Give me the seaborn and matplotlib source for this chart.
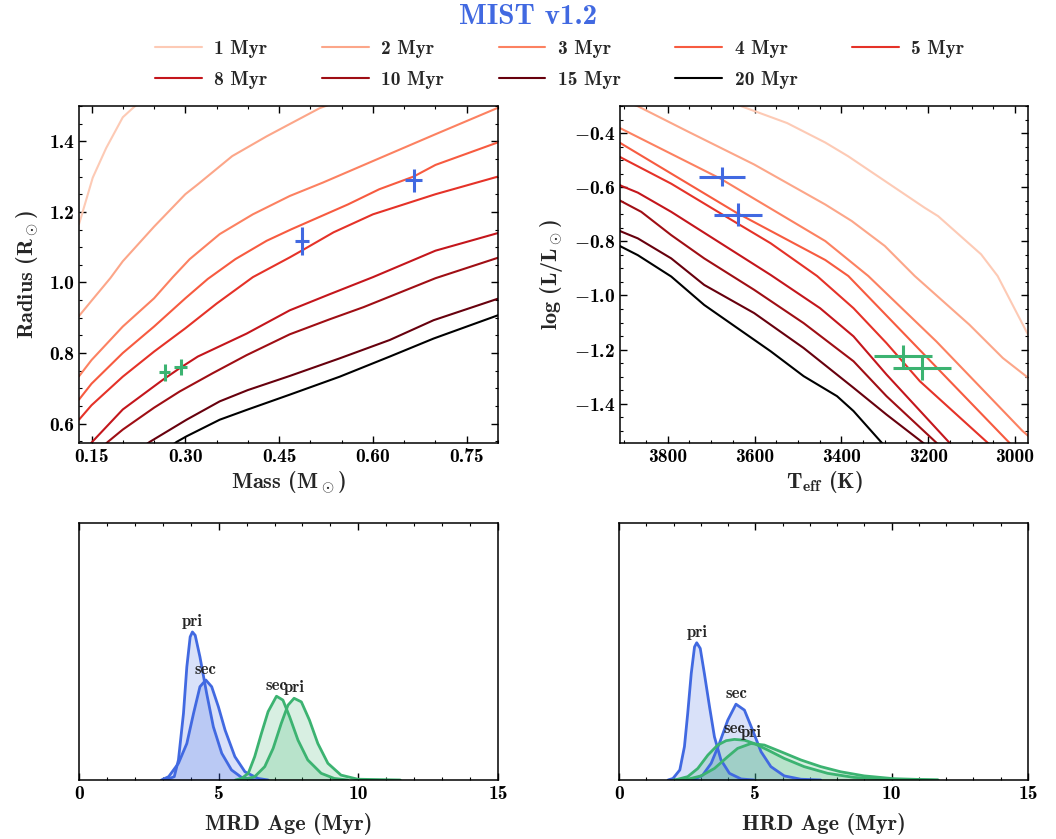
import numpy as np
import pandas as pd
import matplotlib
matplotlib.use("Agg")
import matplotlib.pyplot as plt
from matplotlib.ticker import MultipleLocator, FuncFormatter
import seaborn as sns

# ---------------- data ----------------
ages = ["1 Myr", "2 Myr", "3 Myr", "4 Myr", "5 Myr", "8 Myr", "10 Myr", "15 Myr", "20 Myr"]

# Mass-radius isochrones (Msun, Rsun)
mr_mass_1 = [0.13, 0.152, 0.1735, 0.20, 0.216, 0.24]
mr_rad_1 = [1.165, 1.297, 1.381, 1.468, 1.494, 1.53]
mr_mass_2 = [0.13, 0.15, 0.18, 0.20, 0.25, 0.30, 0.32, 0.375, 0.43, 0.465, 0.515, 0.54]
mr_rad_2 = [0.905, 0.948, 1.012, 1.06, 1.158, 1.25, 1.278, 1.358, 1.414, 1.447, 1.494, 1.51]
mr_mass_3 = [0.13, 0.15, 0.20, 0.25, 0.28, 0.307, 0.355, 0.408, 0.467, 0.52, 0.60, 0.70, 0.80]
mr_rad_3 = [0.734, 0.78, 0.875, 0.955, 1.015, 1.066, 1.137, 1.193, 1.245, 1.283, 1.344, 1.42, 1.495]
mr_mass_4 = [0.13, 0.15, 0.20, 0.25, 0.30, 0.336, 0.38, 0.43, 0.47, 0.56, 0.61, 0.665, 0.70, 0.80]
mr_rad_4 = [0.668, 0.713, 0.80, 0.875, 0.955, 1.01, 1.066, 1.118, 1.151, 1.221, 1.264, 1.30, 1.333, 1.397]
mr_mass_5 = [0.13, 0.15, 0.20, 0.25, 0.30, 0.35, 0.408, 0.467, 0.486, 0.537, 0.60, 0.70, 0.80]
mr_rad_5 = [0.611, 0.652, 0.733, 0.804, 0.87, 0.94, 1.015, 1.071, 1.09, 1.142, 1.193, 1.25, 1.30]
mr_mass_8 = [0.145, 0.151, 0.20, 0.264, 0.291, 0.32, 0.398, 0.467, 0.53, 0.60, 0.70, 0.80]
mr_rad_8 = [0.535, 0.548, 0.64, 0.724, 0.757, 0.79, 0.855, 0.921, 0.966, 1.015, 1.09, 1.14]
mr_mass_10 = [0.17, 0.176, 0.20, 0.25, 0.291, 0.344, 0.398, 0.467, 0.53, 0.585, 0.70, 0.80]
mr_rad_10 = [0.538, 0.548, 0.583, 0.645, 0.691, 0.743, 0.794, 0.853, 0.895, 0.93, 1.012, 1.07]
mr_mass_15 = [0.235, 0.243, 0.302, 0.355, 0.40, 0.467, 0.547, 0.627, 0.697, 0.80]
mr_rad_15 = [0.538, 0.548, 0.611, 0.663, 0.695, 0.735, 0.785, 0.837, 0.893, 0.954]
mr_mass_20 = [0.28, 0.286, 0.302, 0.355, 0.40, 0.467, 0.547, 0.627, 0.697, 0.80]
mr_rad_20 = [0.54, 0.548, 0.564, 0.611, 0.64, 0.682, 0.733, 0.79, 0.841, 0.907]

# HR-diagram isochrones (Teff K, log L/Lsun)
hr_teff_1 = [3660, 3632, 3525, 3437, 3384, 3208, 3177, 3078, 3040, 2965]
hr_logl_1 = [-0.285, -0.30, -0.363, -0.435, -0.486, -0.676, -0.707, -0.848, -0.928, -1.16]
hr_teff_2 = [3890, 3870, 3754, 3601, 3437, 3376, 3300, 3231, 3105, 3028, 2965]
hr_logl_2 = [-0.29, -0.30, -0.394, -0.516, -0.664, -0.725, -0.817, -0.928, -1.108, -1.231, -1.31]
hr_teff_3 = [3910, 3907, 3679, 3437, 3338, 3181, 2983, 2965]
hr_logl_3 = [-0.382, -0.384, -0.568, -0.799, -0.928, -1.17, -1.50, -1.525]
hr_teff_4 = [3910, 3907, 3643, 3437, 3384, 3013, 3000]
hr_logl_4 = [-0.436, -0.439, -0.693, -0.869, -0.928, -1.544, -1.565]
hr_teff_5 = [3910, 3907, 3792, 3678, 3563, 3456, 3372, 3296, 3219, 3063, 3050]
hr_logl_5 = [-0.488, -0.491, -0.587, -0.697, -0.807, -0.928, -1.047, -1.176, -1.317, -1.544, -1.565]
hr_teff_8 = [3910, 3907, 3869, 3792, 3678, 3563, 3449, 3372, 3296, 3151, 3140]
hr_logl_8 = [-0.592, -0.595, -0.620, -0.691, -0.807, -0.924, -1.047, -1.151, -1.292, -1.544, -1.565]
hr_teff_10 = [3910, 3907, 3861, 3792, 3716, 3601, 3487, 3372, 3296, 3181, 3170]
hr_logl_10 = [-0.649, -0.652, -0.691, -0.777, -0.863, -0.979, -1.102, -1.243, -1.372, -1.544, -1.56]
hr_teff_15 = [3910, 3907, 3869, 3792, 3716, 3601, 3487, 3372, 3296, 3212, 3200]
hr_logl_15 = [-0.761, -0.764, -0.789, -0.863, -0.961, -1.065, -1.194, -1.341, -1.44, -1.544, -1.56]
hr_teff_20 = [3910, 3907, 3869, 3792, 3716, 3640, 3563, 3487, 3410, 3372, 3307, 3295]
hr_logl_20 = [-0.817, -0.820, -0.851, -0.930, -1.035, -1.120, -1.206, -1.298, -1.372, -1.427, -1.544, -1.565]

# Observed binary components
blue_mass = [0.665, 0.486]
blue_mass_err = [0.013, 0.011]
blue_rad = [1.289, 1.118]
blue_rad_err = [0.033, 0.04]
green_mass = [0.267, 0.2925]
green_mass_err = [0.009, 0.010]
green_rad = [0.745, 0.761]
green_rad_err = [0.023, 0.022]

blue_teff = [3675, 3638]
blue_teff_err = [53, 55]
blue_logl = [-0.562, -0.701]
blue_logl_err = [0.035, 0.041]
green_teff = [3258, 3215]
green_teff_err = [67, 67]
green_logl = [-1.225, -1.268]
green_logl_err = [0.043, 0.043]

# Age posteriors (relative density)
mrd_blue_pri_age = [3.0, 3.15, 3.41, 3.56, 3.74, 3.86, 3.98, 4.06, 4.16, 4.33, 4.57, 4.81, 5.11, 5.46, 5.82, 6.3]
mrd_blue_pri_pdf = [0.0, 0.002, 0.013, 0.078, 0.259, 0.44, 0.557, 0.576, 0.563, 0.479, 0.337, 0.207, 0.104, 0.039, 0.010, 0.0]
mrd_blue_sec_age = [2.95, 3.21, 3.56, 3.86, 4.10, 4.33, 4.54, 4.75, 4.99, 5.23, 5.58, 5.94, 6.41, 6.77]
mrd_blue_sec_pdf = [0.0, 0.013, 0.065, 0.142, 0.259, 0.363, 0.389, 0.363, 0.285, 0.194, 0.091, 0.032, 0.006, 0.0]
mrd_green_sec_age = [5.6, 5.82, 6.06, 6.29, 6.53, 6.77, 7.07, 7.30, 7.54, 7.84, 8.19, 8.67, 9.14, 9.62]
mrd_green_sec_pdf = [0.0, 0.006, 0.026, 0.091, 0.181, 0.266, 0.326, 0.311, 0.246, 0.155, 0.078, 0.026, 0.006, 0.0]
mrd_green_pri_age = [5.7, 5.94, 6.29, 6.65, 6.95, 7.24, 7.48, 7.70, 7.96, 8.25, 8.55, 8.91, 9.38, 9.98, 11.5]
mrd_green_pri_pdf = [0.0, 0.003, 0.013, 0.052, 0.123, 0.220, 0.291, 0.318, 0.304, 0.233, 0.142, 0.065, 0.019, 0.003, 0.0]

hrd_blue_pri_age = [1.8, 1.98, 2.23, 2.40, 2.52, 2.65, 2.77, 2.85, 2.98, 3.13, 3.32, 3.50, 3.74, 4.05, 4.48, 4.96]
hrd_blue_pri_pdf = [0.0, 0.006, 0.039, 0.130, 0.259, 0.415, 0.518, 0.534, 0.512, 0.415, 0.285, 0.168, 0.078, 0.026, 0.004, 0.0]
hrd_blue_sec_age = [2.6, 2.77, 3.07, 3.38, 3.68, 3.99, 4.29, 4.60, 4.90, 5.21, 5.57, 6.06, 6.67, 7.4]
hrd_blue_sec_pdf = [0.0, 0.003, 0.019, 0.065, 0.142, 0.233, 0.295, 0.272, 0.194, 0.110, 0.052, 0.016, 0.003, 0.0]
hrd_green_sec_age = [2.0, 2.16, 2.52, 2.89, 3.26, 3.62, 3.93, 4.23, 4.60, 4.96, 5.45, 6.06, 6.79, 7.65, 8.62, 9.84, 11.7]
hrd_green_sec_pdf = [0.0, 0.003, 0.013, 0.045, 0.097, 0.136, 0.153, 0.158, 0.155, 0.142, 0.117, 0.084, 0.052, 0.026, 0.010, 0.003, 0.0]
hrd_green_pri_age = [2.3, 2.52, 3.01, 3.50, 3.99, 4.35, 4.84, 5.33, 5.94, 6.67, 7.40, 8.13, 8.99, 10.09, 11.7]
hrd_green_pri_pdf = [0.0, 0.003, 0.016, 0.045, 0.091, 0.123, 0.142, 0.136, 0.110, 0.078, 0.052, 0.032, 0.016, 0.005, 0.0]

# ---------------- style ----------------
sns.set_theme(style="ticks")
plt.rcParams.update({
    "font.family": ["cmb10", "DejaVu Serif"],
    "mathtext.fontset": "cm",
    "mathtext.default": "rm",
    "axes.formatter.use_mathtext": False,
    "axes.unicode_minus": False,
    "axes.edgecolor": "black",
    "axes.linewidth": 1.1,
    "xtick.direction": "in",
    "ytick.direction": "in",
    "xtick.top": True,
    "ytick.right": True,
    "xtick.major.size": 5,
    "ytick.major.size": 5,
    "xtick.minor.size": 2.5,
    "ytick.minor.size": 2.5,
    "xtick.major.width": 1.0,
    "ytick.major.width": 1.0,
    "xtick.minor.width": 0.8,
    "ytick.minor.width": 0.8,
    "xtick.color": "black",
    "ytick.color": "black",
    "xtick.labelsize": 14,
    "ytick.labelsize": 14,
    "axes.labelsize": 16,
})

BLUE = "#4169E1"
GREEN = "#3CB371"
cmap = plt.get_cmap("Reds")
iso_colors = [cmap(v) for v in np.linspace(0.2, 1.0, 8)] + ["black"]

W, H = 1056, 839
fig = plt.figure(figsize=(W / 100, H / 100), dpi=100)

def add_ax(x0, y0, x1, y1):
    return fig.add_axes([x0 / W, 1 - y1 / H, (x1 - x0) / W, (y1 - y0) / H])

ax_mr = add_ax(79, 106, 498, 443)
ax_hr = add_ax(620, 106, 1028, 443)
ax_ma = add_ax(79, 523, 498, 780)
ax_ha = add_ax(619, 523, 1028, 780)

mr_lines = [(mr_mass_1, mr_rad_1), (mr_mass_2, mr_rad_2), (mr_mass_3, mr_rad_3),
            (mr_mass_4, mr_rad_4), (mr_mass_5, mr_rad_5), (mr_mass_8, mr_rad_8),
            (mr_mass_10, mr_rad_10), (mr_mass_15, mr_rad_15), (mr_mass_20, mr_rad_20)]
hr_lines = [(hr_teff_1, hr_logl_1), (hr_teff_2, hr_logl_2), (hr_teff_3, hr_logl_3),
            (hr_teff_4, hr_logl_4), (hr_teff_5, hr_logl_5), (hr_teff_8, hr_logl_8),
            (hr_teff_10, hr_logl_10), (hr_teff_15, hr_logl_15), (hr_teff_20, hr_logl_20)]

for (m, r), (t, l), lab, c in zip(mr_lines, hr_lines, ages, iso_colors):
    sns.lineplot(x=m, y=r, ax=ax_mr, color=c, lw=1.5, label=lab, sort=False, estimator=None, legend=False)
    sns.lineplot(x=t, y=l, ax=ax_hr, color=c, lw=1.5, sort=False, estimator=None, legend=False)

ax_mr.errorbar(blue_mass, blue_rad, xerr=blue_mass_err, yerr=blue_rad_err, fmt="none", ecolor=BLUE, elinewidth=2.2, capsize=0, zorder=5)
ax_mr.errorbar(green_mass, green_rad, xerr=green_mass_err, yerr=green_rad_err, fmt="none", ecolor=GREEN, elinewidth=2.2, capsize=0, zorder=5)
ax_hr.errorbar(blue_teff, blue_logl, xerr=blue_teff_err, yerr=blue_logl_err, fmt="none", ecolor=BLUE, elinewidth=2.2, capsize=0, zorder=5)
ax_hr.errorbar(green_teff, green_logl, xerr=green_teff_err, yerr=green_logl_err, fmt="none", ecolor=GREEN, elinewidth=2.2, capsize=0, zorder=5)

ax_mr.set_xlim(0.13, 0.80)
ax_mr.set_ylim(0.545, 1.50)
ax_mr.xaxis.set_major_locator(MultipleLocator(0.15))
ax_mr.xaxis.set_minor_locator(MultipleLocator(0.05))
ax_mr.yaxis.set_major_locator(MultipleLocator(0.2))
ax_mr.yaxis.set_minor_locator(MultipleLocator(0.05))
ax_mr.xaxis.set_major_formatter(FuncFormatter(lambda v, p: f"{v:.2f}"))
ax_mr.yaxis.set_major_formatter(FuncFormatter(lambda v, p: f"{v:.1f}"))
ax_mr.set_xlabel(r"Mass (M$_\odot$)", labelpad=2)
ax_mr.set_ylabel(r"Radius (R$_\odot$)", labelpad=6)

ax_hr.set_xlim(3910, 2970)
ax_hr.set_ylim(-1.545, -0.30)
ax_hr.xaxis.set_major_locator(MultipleLocator(200))
ax_hr.xaxis.set_minor_locator(MultipleLocator(50))
ax_hr.yaxis.set_major_locator(MultipleLocator(0.2))
ax_hr.yaxis.set_minor_locator(MultipleLocator(0.05))
ax_hr.xaxis.set_major_formatter(FuncFormatter(lambda v, p: f"{v:.0f}"))
ax_hr.yaxis.set_major_formatter(FuncFormatter(
    lambda v, p: (r"$-$" if v < -1e-9 else "") + f"{abs(v):.1f}"))
ax_hr.set_xlabel(r"T$_{\mathbf{eff}}$ (K)", labelpad=2)
ax_hr.set_ylabel(r"log (L/L$_\odot$)", labelpad=6)

def draw_pdf(ax, x, y, color, name):
    sns.lineplot(x=x, y=y, ax=ax, color=color, lw=2, sort=False, estimator=None, legend=False)
    ax.fill_between(x, y, 0, color=color, alpha=0.2, lw=0)
    i = int(np.argmax(y))
    ax.text(x[i], y[i] + 0.012, name, ha="center", va="bottom", fontsize=12)

draw_pdf(ax_ma, mrd_blue_pri_age, mrd_blue_pri_pdf, BLUE, "pri")
draw_pdf(ax_ma, mrd_blue_sec_age, mrd_blue_sec_pdf, BLUE, "sec")
draw_pdf(ax_ma, mrd_green_sec_age, mrd_green_sec_pdf, GREEN, "sec")
draw_pdf(ax_ma, mrd_green_pri_age, mrd_green_pri_pdf, GREEN, "pri")
draw_pdf(ax_ha, hrd_blue_pri_age, hrd_blue_pri_pdf, BLUE, "pri")
draw_pdf(ax_ha, hrd_blue_sec_age, hrd_blue_sec_pdf, BLUE, "sec")
draw_pdf(ax_ha, hrd_green_sec_age, hrd_green_sec_pdf, GREEN, "sec")
draw_pdf(ax_ha, hrd_green_pri_age, hrd_green_pri_pdf, GREEN, "pri")

for ax, lab in [(ax_ma, "MRD Age (Myr)"), (ax_ha, "HRD Age (Myr)")]:
    ax.set_xlim(0, 15)
    ax.set_ylim(0, 1.0)
    ax.xaxis.set_major_locator(MultipleLocator(5))
    ax.xaxis.set_minor_locator(MultipleLocator(1))
    ax.xaxis.set_major_formatter(FuncFormatter(lambda v, p: f"{v:.0f}"))
    ax.set_yticks([])
    ax.tick_params(axis="y", which="both", left=False, right=False)
    ax.set_xlabel(lab, labelpad=7)
    ax.set_ylabel("")

for ax in [ax_mr, ax_hr, ax_ma, ax_ha]:
    for s in ax.spines.values():
        s.set_visible(True)
        s.set_color("black")

fig.text(0.5, 0.995, "MIST v1.2", ha="center", va="top", color=BLUE, fontsize=21)

handles, labels = ax_mr.get_legend_handles_labels()
order = [0, 5, 1, 6, 2, 7, 3, 8, 4]  # row-major layout in a column-filled legend
fig.legend([handles[i] for i in order], [labels[i] for i in order], ncol=5,
           loc="upper center", bbox_to_anchor=(0.53, 0.957),
           frameon=False, fontsize=14, handlelength=2.4, handletextpad=0.65,
           columnspacing=2.8, labelspacing=0.65, borderaxespad=0, borderpad=0.2)

fig.savefig("out.png", dpi=100)
